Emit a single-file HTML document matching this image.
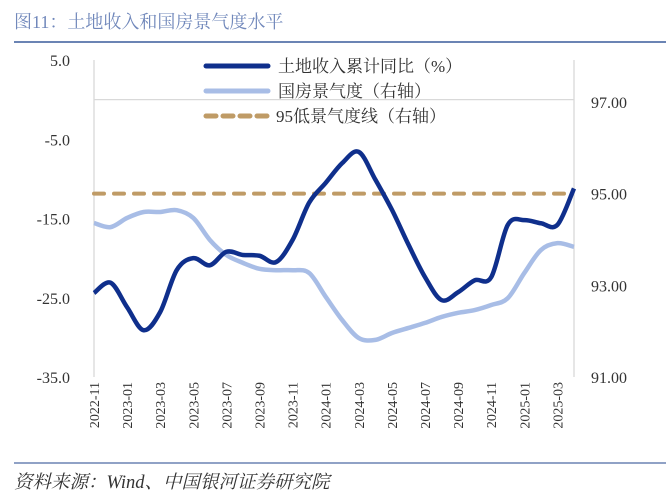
<!DOCTYPE html>
<html><head><meta charset="utf-8">
<style>
body{margin:0;background:#fff;width:666px;height:499px;overflow:hidden;font-family:"Liberation Serif","Noto Serif CJK SC",serif;}
</style></head>
<body>
<svg width="666" height="499" xmlns="http://www.w3.org/2000/svg">
<text x="14" y="28" font-size="18" fill="#7188bb" font-family="Liberation Serif, Noto Serif CJK SC, serif">图11：土地收入和国房景气度水平</text>
<rect x="14" y="41" width="652" height="2" fill="#6b84b4"/>
<g id="axes"></g>
<g id="plot"></g>
<g font-size="17" fill="#333">
<line x1="206" y1="66" x2="268" y2="66" stroke="#0f2f8c" stroke-width="5" stroke-linecap="round"/>
<text x="278" y="72">土地收入累计同比（%）</text>
<line x1="206" y1="91" x2="268" y2="91" stroke="#a8bde6" stroke-width="5" stroke-linecap="round"/>
<text x="278" y="97">国房景气度（右轴）</text>
<line x1="206" y1="116" x2="268" y2="116" stroke="#bf9b66" stroke-width="5" stroke-dasharray="10,7" stroke-linecap="round"/>
<text x="276" y="122">95低景气度线（右轴）</text>
</g>
<line x1="14" y1="463" x2="666" y2="463" stroke="#6b84b4" stroke-width="1.5"/>
<text x="14" y="488" font-size="18.5" font-style="italic" fill="#333">资料来源：Wind、中国银河证券研究院</text>
</svg>
<script>
const months=["2022-11","2022-12","2023-01","2023-02","2023-03","2023-04","2023-05","2023-06","2023-07","2023-08","2023-09","2023-10","2023-11","2023-12","2024-01","2024-02","2024-03","2024-04","2024-05","2024-06","2024-07","2024-08","2024-09","2024-10","2024-11","2024-12","2025-01","2025-02","2025-03","2025-04"];
const landIncome=[-24.4,-23.1,-26.2,-29.1,-26.8,-21.5,-20,-20.9,-19.2,-19.6,-19.7,-20.5,-17.7,-13,-10.5,-8,-6.6,-10.1,-13.9,-18.3,-22.4,-25.3,-24.3,-22.8,-22.4,-15.8,-15.2,-15.6,-15.8,-11.2];
const climate=[94.36,94.27,94.47,94.6,94.6,94.64,94.47,93.99,93.66,93.49,93.36,93.33,93.33,93.27,92.75,92.24,91.85,91.81,91.96,92.07,92.18,92.31,92.4,92.46,92.57,92.72,93.27,93.77,93.92,93.84];
const threshold=95;
const leftTicks=["5.0","-5.0","-15.0","-25.0","-35.0"];
const rightTicks=["97.00","95.00","93.00","91.00"];
const NS="http://www.w3.org/2000/svg";
const X0=94,X1=574;
const xs=i=>X0+(X1-X0)*i/(months.length-1);
const yL=v=>60+(5-v)*(317/40);
const yR=v=>102+(97-v)*(275/6);
function mk(t,a,p){const e=document.createElementNS(NS,t);for(const k in a)e.setAttribute(k,a[k]);p.appendChild(e);return e;}
const axes=document.getElementById('axes'),plot=document.getElementById('plot');
let e=mk('line',{x1:X0,y1:yL(0),x2:X1,y2:yL(0),stroke:'#d9d9d9','stroke-width':1.3},axes);


e=mk('line',{x1:X0,y1:60,x2:X0,y2:377,stroke:'#d9d9d9','stroke-width':1.3},axes);


e=mk('line',{x1:X1,y1:60,x2:X1,y2:377,stroke:'#d9d9d9','stroke-width':1.3},axes);


leftTicks.forEach(t=>{const el=mk('text',{x:70,y:yL(parseFloat(t))+6,'text-anchor':'end','font-size':16,fill:'#333'},axes);el.textContent=t;

});
rightTicks.forEach(t=>{const el=mk('text',{x:591,y:yR(parseFloat(t))+6,'font-size':16,fill:'#333'},axes);el.textContent=t;

});
months.forEach((m,i)=>{if(i%2)return;const x=xs(i)+5;const el=mk('text',{x:x,y:382,'text-anchor':'end','font-size':14,fill:'#333',transform:`rotate(-90 ${x} 382)`},axes);el.textContent=m;

});
function smooth(pts){let d=`M${pts[0][0]},${pts[0][1]}`;for(let i=0;i<pts.length-1;i++){const p0=pts[i-1]||pts[i],p1=pts[i],p2=pts[i+1],p3=pts[i+2]||p2;const c1=[p1[0]+(p2[0]-p0[0])/6,p1[1]+(p2[1]-p0[1])/6],c2=[p2[0]-(p3[0]-p1[0])/6,p2[1]-(p3[1]-p1[1])/6];d+=` C${c1[0]},${c1[1]} ${c2[0]},${c2[1]} ${p2[0]},${p2[1]}`;}return d;}
e=mk('line',{x1:X0,y1:yR(threshold),x2:X1,y2:yR(threshold),stroke:'#bf9b66','stroke-width':4,'stroke-dasharray':'10,10','stroke-linecap':'round'},plot);


e=mk('path',{d:smooth(climate.map((v,i)=>[xs(i),yR(v)])),fill:'none',stroke:'#a8bde6','stroke-width':4.5},plot);


e=mk('path',{d:smooth(landIncome.map((v,i)=>[xs(i),yL(v)])),fill:'none',stroke:'#0f2f8c','stroke-width':4.5},plot);


</script>
</body></html>
